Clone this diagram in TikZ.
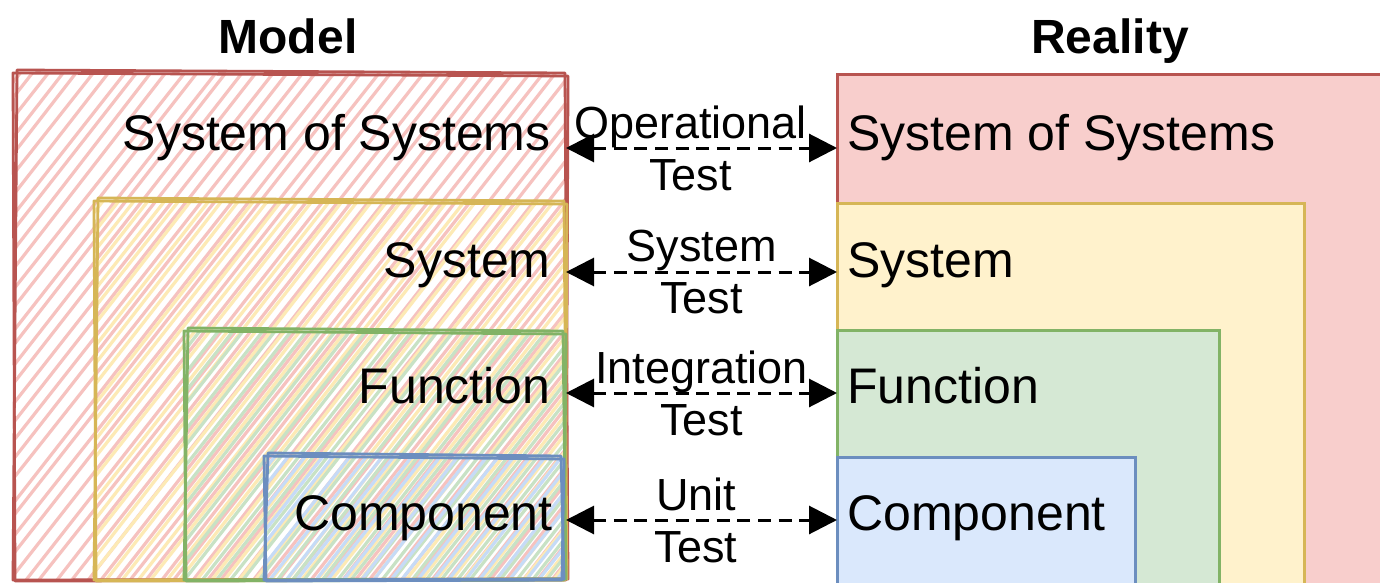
\documentclass[tikz,border=0pt]{standalone}
\usepackage{fontspec}
\setmainfont{Liberation Sans}
\usetikzlibrary{arrows.meta}
\definecolor{redS}{HTML}{B85450}
\definecolor{redF}{HTML}{F8CECC}
\definecolor{redH}{HTML}{F6C2BF}
\definecolor{yelS}{HTML}{D6B656}
\definecolor{yelF}{HTML}{FFF2CC}
\definecolor{yelH}{HTML}{FDEAB5}
\definecolor{grnS}{HTML}{82B366}
\definecolor{grnF}{HTML}{D5E8D4}
\definecolor{grnH}{HTML}{C8E2C5}
\definecolor{bluS}{HTML}{6C8EBF}
\definecolor{bluF}{HTML}{DAE8FC}
\definecolor{bluH}{HTML}{C6DBF7}
\newcommand{\hatchbox}[6]{%
  \begin{scope}
    \clip (#2,#3) rectangle (#4,#5);
    \foreach \i in {-500,-485,...,600}
      \draw[#1, line width=1.6pt, line cap=round] (\i+#6+3*rand,600) -- (\i+#6+470+3*rand,0);
  \end{scope}}
\newcommand{\sketchrect}[5]{%
  \draw[#1, line width=1.4pt, line join=round] (#2-1,#3+1) -- (#4+1,#3+4) -- (#4-1,#5) -- (#2+1,#5+1) -- cycle;
  \draw[#1, line width=1.4pt, line join=round] (#2+3,#3-2) -- (#4-2,#3+1) -- (#4+1,#5-1) -- (#2-1,#5) -- cycle;}
\tikzset{
  lbl/.style={inner sep=0pt, font=\fontsize{25pt}{30pt}\selectfont},
  ttl/.style={inner sep=0pt, font=\fontsize{24pt}{28pt}\selectfont\bfseries},
  midlbl/.style={inner sep=0pt, align=center, font=\fontsize{22.5pt}{26pt}\selectfont},
  realbox/.style={line width=1.5pt},
  testarrow/.style={line width=1.5pt, dash pattern=on 6.5pt off 3.8pt,
    {Triangle[length=14pt,width=14pt]}-{Triangle[length=14pt,width=14pt]}}
}
\begin{document}
\begin{tikzpicture}[x=0.5pt,y=-0.5pt]
\useasboundingbox (0,0) rectangle (1380,583);
\clip (0,0) rectangle (1380,583);
\fill[white] (0,0) rectangle (1380,583);
\pgfmathsetseed{7}
% ---------- Model (sketch) ----------
\hatchbox{redH}{14}{74}{566}{580}{0}
\hatchbox{yelH}{95}{201}{566}{580}{5}
\hatchbox{grnH}{185}{331}{565}{580}{10}
\hatchbox{bluH}{265}{456}{563}{580}{3}
\sketchrect{redS}{14}{72}{567}{580}
\sketchrect{yelS}{95}{200}{566}{580}
\sketchrect{grnS}{185}{330}{565}{580}
\sketchrect{bluS}{265}{455}{563}{580}
% ---------- Reality ----------
\draw[realbox, redS, fill=redF] (837,75) rectangle (1400,600);
\draw[realbox, yelS, fill=yelF] (837,203) rectangle (1304,600);
\draw[realbox, grnS, fill=grnF] (837,330) rectangle (1219,600);
\draw[realbox, bluS, fill=bluF] (837,457) rectangle (1135,600);
% ---------- titles ----------
\node[ttl, anchor=base] (tmodel) at (288,54) {Model};
\node[ttl, anchor=base] (treal) at (1110,54) {Reality};
% ---------- labels ----------
\node[lbl, anchor=base east] (msos) at (551,150) {System of Systems};
\node[lbl, anchor=base east] (msys) at (551,277) {System};
\node[lbl, anchor=base east] (mfun) at (551,403) {Function};
\node[lbl, anchor=base east] (mcom) at (553,530) {Component};
\node[lbl, anchor=base west] (rsos) at (847,150) {System of Systems};
\node[lbl, anchor=base west] (rsys) at (847,277) {System};
\node[lbl, anchor=base west] (rfun) at (847,403) {Function};
\node[lbl, anchor=base west] (rcom) at (847,530) {Component};
% ---------- arrows ----------
\coordinate (la) at (566,148); \coordinate (ra) at (837,148);
\coordinate (lb) at (566,272); \coordinate (rb) at (837,272);
\coordinate (lc) at (566,393); \coordinate (rc) at (837,393);
\coordinate (ld) at (566,520); \coordinate (rd) at (837,520);
\draw[testarrow] (la) -- (ra) node[midlbl, pos=0.46] (ta) {Operational\\Test};
\draw[testarrow] (lb) -- (rb) node[midlbl, midway] (tb) {System\\Test};
\draw[testarrow] (lc) -- (rc) node[midlbl, midway] (tc) {Integration\\Test};
\draw[testarrow] (ld) -- (rd) node[midlbl, pos=0.48] (td) {Unit\\Test};
\end{tikzpicture}
\end{document}
